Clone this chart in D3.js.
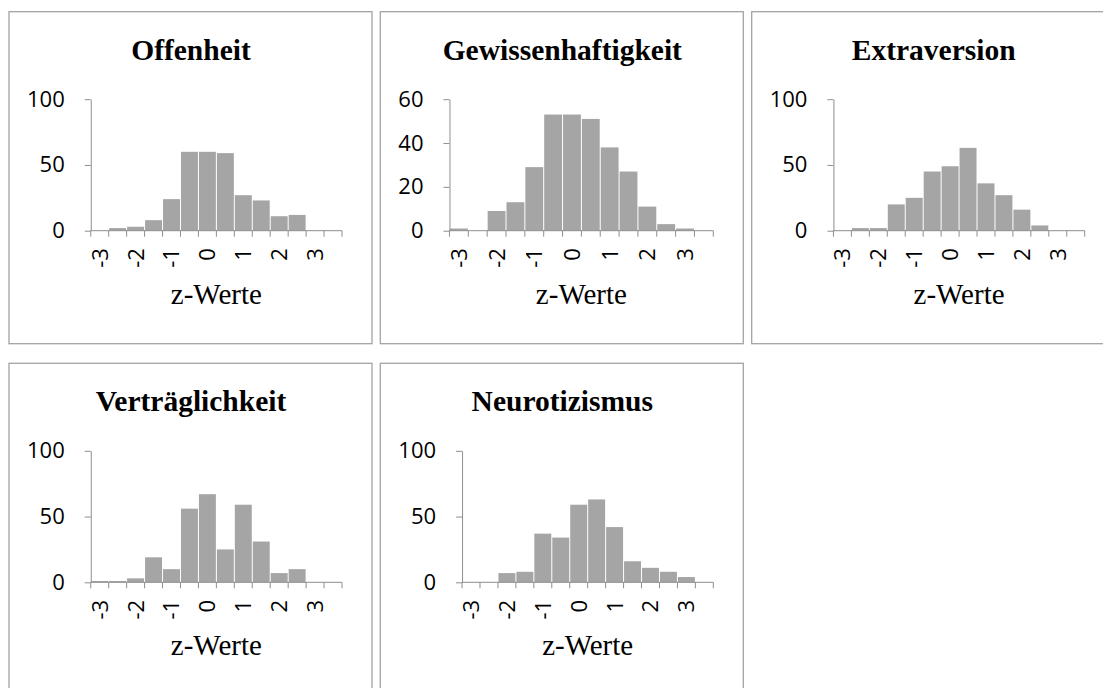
<!DOCTYPE html>
<html>
<head>
<meta charset="utf-8">
<script src="https://cdn.jsdelivr.net/npm/d3@7"></script>
<style>
  html, body { margin: 0; padding: 0; background: #fff; }
  svg { display: block; }
</style>
</head>
<body>
<svg id="chart" width="1103" height="688"></svg>
<script>
// ---- data ----
const bins = [-3, -2.5, -2, -1.5, -1, -0.5, 0, 0.5, 1, 1.5, 2, 2.5, 3, 3.5];
const tickLabels = ["-3", "-2", "-1", "0", "1", "2", "3"];
const titles = ["Offenheit", "Gewissenhaftigkeit", "Extraversion", "Verträglichkeit", "Neurotizismus"];
const xTitle = "z-Werte";
const offenheit        = [0, 2, 3, 8, 24, 60, 60, 59, 27, 23, 11, 12, 0, 0];
const gewissenhaftigkeit = [1, 0, 9, 13, 29, 53, 53, 51, 38, 27, 11, 3, 1, 0];
const extraversion     = [0, 2, 2, 20, 25, 45, 49, 63, 36, 27, 16, 4, 0, 0];
const vertraeglichkeit = [1, 1, 3, 19, 10, 56, 67, 25, 59, 31, 7, 10, 0, 0];
const neurotizismus    = [0, 0, 7, 8, 37, 34, 59, 63, 42, 16, 11, 8, 4, 0];
const yMax   = [100, 60, 100, 100, 100];
const yTicks = [[0, 50, 100], [0, 20, 40, 60], [0, 50, 100], [0, 50, 100], [0, 50, 100]];
const seriesList = [offenheit, gewissenhaftigkeit, extraversion, vertraeglichkeit, neurotizismus];

// ---- layout ----
const svg = d3.select("#chart");
const panelW = 363, panelH = 332;
const origins = [[9, 11.7], [380.3, 11.7], [751.7, 11.7], [9, 363.3], [380.3, 363.3]];
const axisColor = "#8e8e8e";
const barColor = "#a5a5a5";
const frameColor = "#a3a3a3";
const sansFont = "'Open Sans', 'Noto Sans', sans-serif";
const serifFont = "'Liberation Serif', 'DejaVu Serif', serif";

seriesList.forEach((vals, i) => {
  const [ox, oy] = origins[i];
  const g = svg.append("g").attr("transform", `translate(${ox},${oy})`);

  g.append("rect")
    .attr("x", 0).attr("y", 0)
    .attr("width", panelW).attr("height", panelH)
    .attr("fill", "#fff")
    .attr("stroke", frameColor)
    .attr("stroke-width", 1.3);

  g.append("text")
    .attr("x", panelW / 2 + 0.5).attr("y", 48)
    .attr("text-anchor", "middle")
    .attr("font-family", serifFont)
    .attr("font-weight", "bold")
    .attr("font-size", 29.5)
    .attr("fill", "#000")
    .text(titles[i]);

  // measure widest y tick label
  const probe = g.append("text").attr("font-family", sansFont).attr("font-size", 22).text("0");
  const lw = d3.max(yTicks[i], t => { probe.text(String(t)); return probe.node().getComputedTextLength(); });
  probe.remove();

  const left = 18 + lw + 26;
  const right = 333;
  const top = 87.5, bottom = 219;

  const x = d3.scaleBand().domain(bins).range([left, right]).paddingInner(0).paddingOuter(0);
  const y = d3.scaleLinear().domain([0, yMax[i]]).range([bottom, top]);

  // bars
  g.append("g").selectAll("rect")
    .data(vals.map((v, k) => ({ bin: bins[k], v })).filter(d => d.v > 0))
    .join("rect")
    .attr("x", d => x(d.bin) + 0.5)
    .attr("width", x.bandwidth() - 1)
    .attr("y", d => y(d.v))
    .attr("height", d => y(0) - y(d.v))
    .attr("fill", barColor);

  // y axis
  const yAxis = g.append("g")
    .attr("transform", `translate(${left},0)`)
    .call(d3.axisLeft(y).tickValues(yTicks[i]).tickSize(6).tickPadding(20).tickSizeOuter(0).tickFormat(d3.format("d")));
  yAxis.select(".domain").attr("stroke", axisColor).attr("stroke-width", 1);
  yAxis.selectAll(".tick line").attr("stroke", axisColor);
  yAxis.selectAll(".tick text")
    .attr("font-family", sansFont).attr("font-size", 22).attr("fill", "#000");

  // x axis: line + ticks at every bin boundary
  const boundaries = bins.map(b => x(b)).concat([right]);
  g.append("line")
    .attr("x1", left).attr("x2", right)
    .attr("y1", bottom).attr("y2", bottom)
    .attr("stroke", axisColor).attr("stroke-width", 1);
  g.append("g").selectAll("line")
    .data(boundaries)
    .join("line")
    .attr("x1", d => d).attr("x2", d => d)
    .attr("y1", bottom).attr("y2", bottom + 6)
    .attr("stroke", axisColor).attr("stroke-width", 1);

  // rotated category labels at integer bins
  const labelBins = bins.filter(b => Number.isInteger(b));
  g.append("g").selectAll("text")
    .data(labelBins)
    .join("text")
    .attr("transform", d => `translate(${x(d) + x.bandwidth() / 2},${bottom + 17.5}) rotate(-90)`)
    .attr("text-anchor", "end")
    .attr("dy", "0.36em")
    .attr("font-family", sansFont)
    .attr("font-size", 22)
    .attr("fill", "#000")
    .text((d, k) => tickLabels[k]);

  // x title
  g.append("text")
    .attr("x", (left + right) / 2).attr("y", 292)
    .attr("text-anchor", "middle")
    .attr("font-family", serifFont)
    .attr("font-size", 29)
    .attr("fill", "#000")
    .text(xTitle);
});
</script>
</body>
</html>
